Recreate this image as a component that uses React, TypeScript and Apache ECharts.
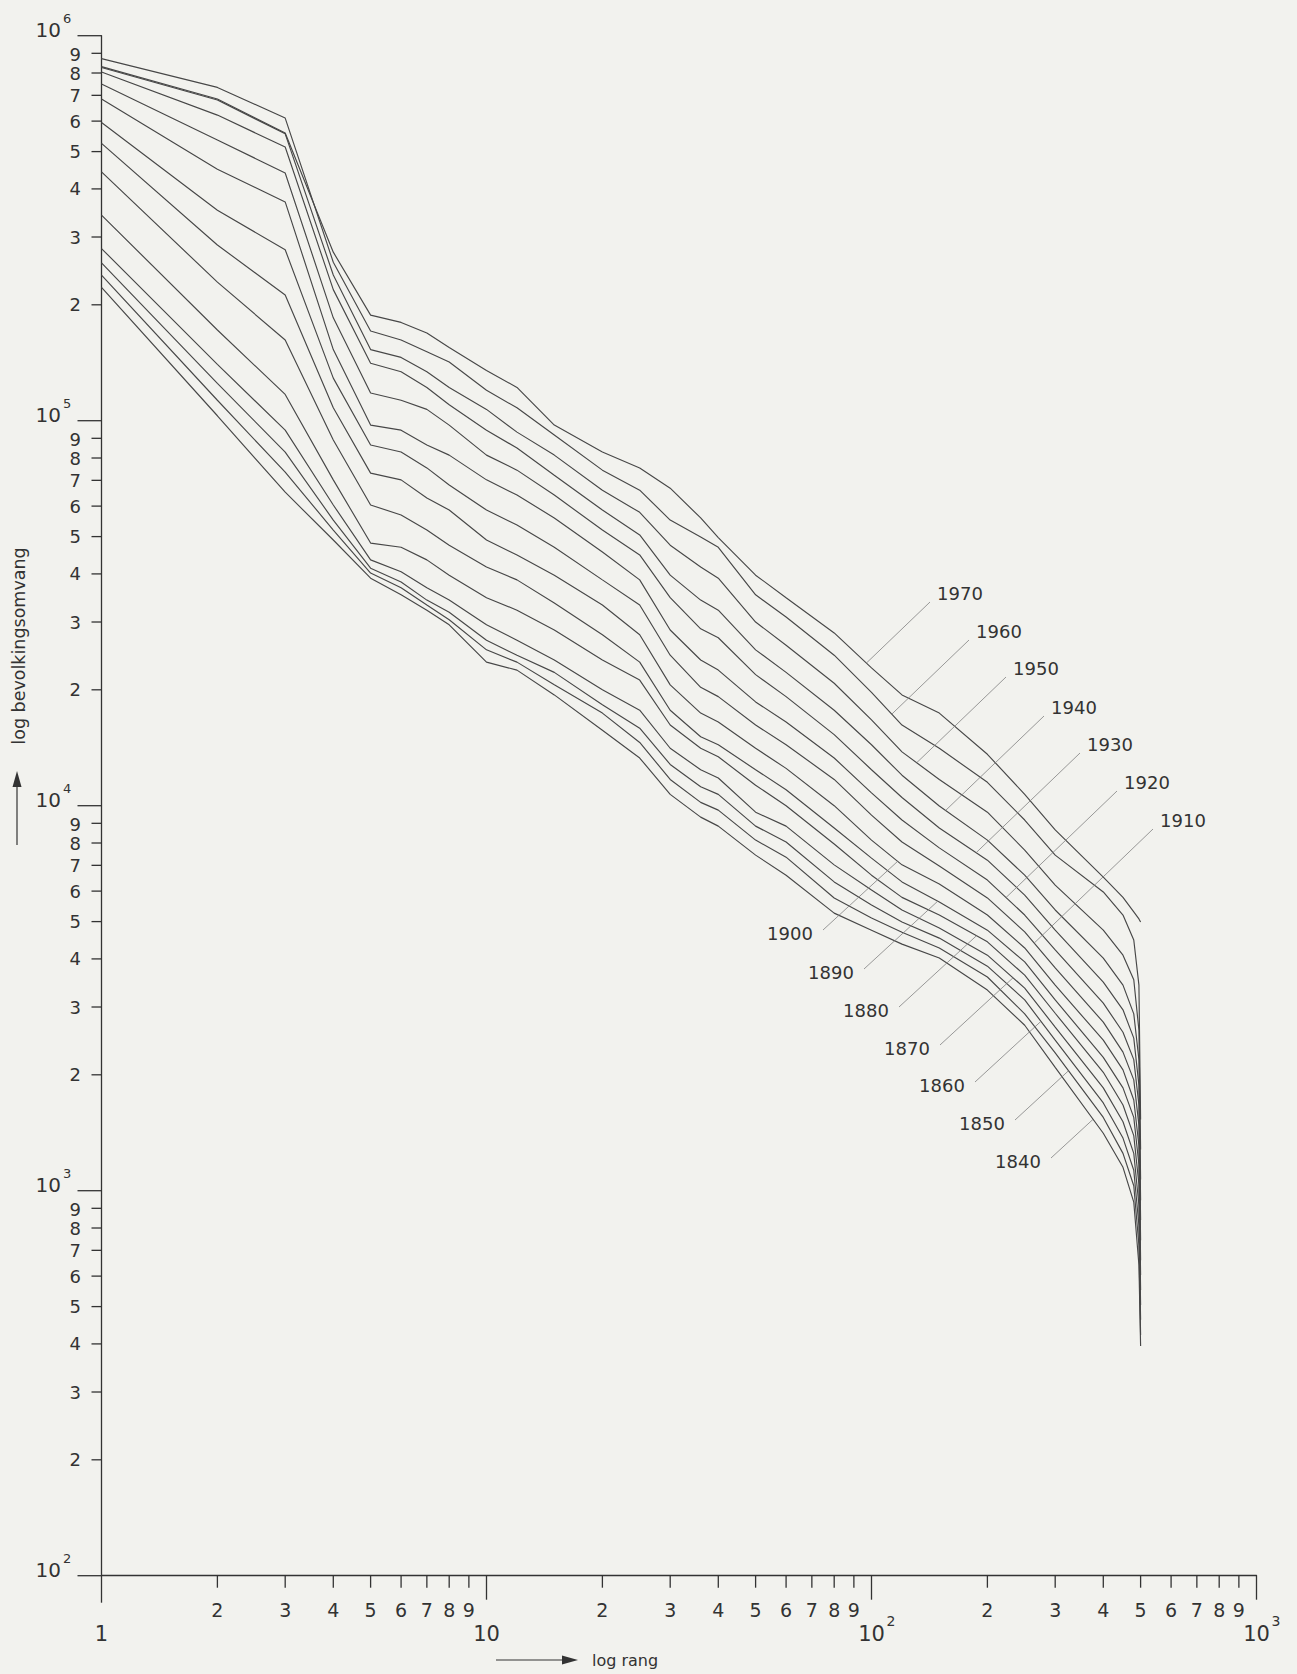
import React, { useEffect, useRef } from "react";
import * as echarts from "echarts";

// ---------------- data ----------------
const RANKS = [1, 2, 3, 4, 5, 6, 7, 8, 10, 12, 15, 20, 25, 30, 36, 40, 50, 60, 80, 100, 120, 150, 200, 250, 300, 400, 450, 480, 495, 500];

const YEARS = [1840, 1850, 1860, 1870, 1880, 1890, 1900, 1910, 1920, 1930, 1940, 1950, 1960, 1970];

const P1840 = [222000, 103000, 65200, 49000, 39000, 35300, 32200, 29500, 23600, 22500, 19400, 15700, 13300, 10700, 9340, 8850, 7440, 6600, 5260, 4750, 4370, 4020, 3320, 2690, 2090, 1410, 1150, 934, 641, 395];
const P1850 = [239000, 113000, 73500, 52000, 40200, 36800, 33200, 30400, 25400, 23600, 20600, 17400, 14600, 11700, 10200, 9740, 8140, 7350, 5760, 5110, 4690, 4270, 3590, 2880, 2280, 1550, 1250, 1030, 722, 422];
const P1860 = [257000, 125000, 82900, 55200, 41400, 38100, 34200, 31800, 26900, 24600, 22200, 18300, 15900, 12800, 11200, 10700, 8850, 8050, 6340, 5520, 4990, 4530, 3830, 3130, 2460, 1690, 1370, 1130, 814, 462];
const P1870 = [280000, 140000, 94500, 60400, 43500, 40500, 36800, 34200, 29500, 26900, 23900, 20000, 17700, 14100, 12400, 11800, 9620, 8850, 7020, 6040, 5360, 4810, 4090, 3360, 2660, 1850, 1510, 1250, 918, 505];
const P1880 = [342000, 172000, 117000, 70200, 48100, 46900, 43500, 39700, 34700, 32200, 28600, 23900, 21200, 16200, 14100, 13400, 11300, 10000, 7950, 6600, 5780, 5200, 4430, 3630, 2890, 2030, 1670, 1390, 1040, 552];
const P1890 = [443000, 229000, 162000, 89100, 60400, 56900, 52000, 47500, 41700, 38600, 33600, 27800, 23600, 17700, 15100, 14400, 12400, 11000, 8750, 7310, 6340, 5620, 4750, 3930, 3130, 2220, 1850, 1550, 1170, 604];
const P1900 = [525000, 286000, 212000, 108000, 73100, 70200, 63000, 58600, 49000, 44800, 39700, 33200, 27800, 20600, 17400, 16500, 14100, 12500, 10000, 8140, 7020, 6260, 5200, 4270, 3420, 2460, 2060, 1720, 1310, 660];
const P1910 = [595000, 352000, 278000, 129000, 86500, 82900, 75400, 68100, 58600, 53600, 46900, 38600, 33200, 24600, 20300, 19200, 16200, 14400, 11700, 9450, 8050, 6970, 5760, 4700, 3790, 2740, 2290, 1940, 1480, 744];
const P1920 = [685000, 450000, 370000, 153000, 97400, 94500, 86500, 81400, 70200, 64100, 55900, 45600, 38600, 28600, 23900, 22500, 18600, 16500, 13300, 10800, 9180, 7770, 6410, 5200, 4220, 3070, 2580, 2190, 1670, 839];
const P1930 = [749000, 536000, 440000, 185000, 118000, 113000, 107000, 97400, 81400, 74400, 64100, 52000, 44800, 34700, 28800, 27300, 21900, 19200, 15300, 12400, 10500, 8750, 7220, 5860, 4750, 3480, 2950, 2490, 1880, 945];
const P1940 = [805000, 622000, 514000, 219000, 141000, 134000, 122000, 110000, 94500, 84900, 72200, 58600, 50500, 39700, 34200, 32200, 25400, 22200, 17700, 14400, 12000, 9980, 8140, 6600, 5360, 4020, 3420, 2880, 2190, 1070];
const P1950 = [827000, 681000, 556000, 239000, 153000, 146000, 134000, 122000, 107000, 93400, 81400, 66000, 57800, 47500, 41700, 39000, 30000, 26100, 20800, 16700, 13800, 11700, 9620, 7670, 6220, 4750, 4090, 3530, 2610, 1280];
const P1960 = [872000, 734000, 611000, 258000, 171000, 162000, 151000, 142000, 120000, 108000, 91800, 74400, 66000, 55200, 49900, 46900, 35300, 30900, 24600, 19700, 16200, 14100, 11500, 9180, 7440, 5970, 5200, 4480, 3420, 1530];
const P1970 = [831000, 685000, 559000, 274000, 188000, 180000, 169000, 155000, 135000, 122000, 97400, 82900, 75400, 66800, 55900, 49700, 39700, 34700, 28100, 22800, 19400, 17400, 13600, 10700, 8650, 6520, 5780, 5300, 5080, 4990];

const SERIES_VALUES = [P1840, P1850, P1860, P1870, P1880, P1890, P1900, P1910, P1920, P1930, P1940, P1950, P1960, P1970];

// tick labels
const MINOR_DIGITS = [2, 3, 4, 5, 6, 7, 8, 9];
const Y_EXPONENTS = [2, 3, 4, 5, 6];
const X_EXPONENTS = [0, 1, 2, 3];

const X_TITLE = "log rang";
const Y_TITLE = "log bevolkingsomvang";

// ---------------- layout (pixels) ----------------
const BG = "#f2f2ee";
const INK = "#333333";
const LINE = "#474747";
const FONT = '"DejaVu Sans", "Liberation Sans", Arial, sans-serif';

// year label centres; "up" labels sit above-right of their curve, "down" labels below-left
const LABEL_POS: { year: number; cx: number; cy: number; side: "up" | "down" }[] = [
  { year: 1970, cx: 960, cy: 593, side: "up" },
  { year: 1960, cx: 999, cy: 631, side: "up" },
  { year: 1950, cx: 1036, cy: 668, side: "up" },
  { year: 1940, cx: 1074, cy: 707, side: "up" },
  { year: 1930, cx: 1110, cy: 744, side: "up" },
  { year: 1920, cx: 1147, cy: 782, side: "up" },
  { year: 1910, cx: 1183, cy: 820, side: "up" },
  { year: 1900, cx: 790, cy: 933, side: "down" },
  { year: 1890, cx: 831, cy: 972, side: "down" },
  { year: 1880, cx: 866, cy: 1010, side: "down" },
  { year: 1870, cx: 907, cy: 1048, side: "down" },
  { year: 1860, cx: 942, cy: 1085, side: "down" },
  { year: 1850, cx: 982, cy: 1123, side: "down" },
  { year: 1840, cx: 1018, cy: 1161, side: "down" },
];

function txt(text: string, x: number, y: number, size: number, align: string, valign: string, extra: any = {}) {
  return {
    type: "text",
    x,
    y,
    silent: true,
    z: 20,
    ...extra,
    style: {
      text,
      font: `${size}px ${FONT}`,
      fill: INK,
      align,
      verticalAlign: valign,
      textAlign: align,
      textVerticalAlign: valign,
    },
  };
}

function seg(x1: number, y1: number, x2: number, y2: number, color = "#333", w = 1.3) {
  return {
    type: "line",
    silent: true,
    z: 20,
    shape: { x1, y1, x2, y2 },
    style: { stroke: color, lineWidth: w },
  };
}

function rayHit(sx: number, sy: number, dx: number, dy: number, pts: number[][]) {
  let best: number[] | null = null;
  let bestT = Infinity;
  for (let i = 0; i < pts.length - 1; i++) {
    const [ax, ay] = pts[i];
    const [bx, by] = pts[i + 1];
    const ex = bx - ax;
    const ey = by - ay;
    const den = dx * ey - dy * ex;
    if (Math.abs(den) < 1e-9) continue;
    const t = ((ax - sx) * ey - (ay - sy) * ex) / den;
    const u = ((ax - sx) * dy - (ay - sy) * dx) / den;
    if (t > 0 && u >= 0 && u <= 1 && t < bestT) {
      bestT = t;
      best = [sx + t * dx, sy + t * dy];
    }
  }
  return best;
}

export default function App() {
  const ref = useRef<HTMLDivElement>(null);

  useEffect(() => {
    document.body.style.margin = "0";
    const el = ref.current!;
    const chart = echarts.init(el, null, { renderer: "svg" });

    const series = SERIES_VALUES.map((vals, i) => ({
      type: "line",
      name: String(YEARS[i]),
      data: RANKS.map((r, j) => [r, vals[j]]),
      symbol: "none",
      silent: true,
      z: 3,
      lineStyle: { color: LINE, width: 1.15 },
    }));

    const axisCommon = {
      type: "log",
      logBase: 10,
      axisLine: { show: true, lineStyle: { color: "#333", width: 1.3 } },
      axisTick: { show: false },
      axisLabel: { show: false },
      splitLine: { show: false },
      minorTick: { show: false },
      minorSplitLine: { show: false },
    };

    chart.setOption({
      animation: false,
      backgroundColor: BG,
      grid: { left: 101.5, top: 35.7, width: 1155, height: 1540, containLabel: false },
      xAxis: { ...axisCommon, min: 1, max: 1000 },
      yAxis: { ...axisCommon, min: 100, max: 1000000 },
      series,
    });

    const gx = (r: number) => chart.convertToPixel({ xAxisIndex: 0 }, r) as unknown as number;
    const gy = (v: number) => chart.convertToPixel({ yAxisIndex: 0 }, v) as unknown as number;
    const x0 = gx(1);
    const yB = gy(100);

    const g: any[] = [];

    // y axis extends below x axis
    g.push(seg(x0, yB, x0, yB + 27));

    // y ticks + labels
    Y_EXPONENTS.forEach((e) => {
      const base = Math.pow(10, e);
      const py = gy(base);
      g.push(seg(x0 - 24, py, x0, py));
      g.push(txt("10", 61, py - 6, 20, "right", "middle"));
      g.push(txt(String(e), 63, py - 17, 13, "left", "middle"));
      if (e < 6) {
        MINOR_DIGITS.forEach((m) => {
          const p = gy(m * base);
          g.push(seg(x0 - 10, p, x0, p));
          g.push(txt(String(m), 81, m === 9 ? p + 1.5 : p, 18, "right", "middle"));
        });
      }
    });

    // x ticks + labels
    X_EXPONENTS.forEach((e) => {
      const base = Math.pow(10, e);
      const px = gx(base);
      if (e === 0) {
        g.push(txt("1", px, 1634, 21, "center", "middle"));
      } else if (e === 1) {
        g.push(seg(px, yB, px, yB + 24));
        g.push(txt("10", px, 1634, 21, "center", "middle"));
      } else {
        g.push(seg(px, yB, px, yB + 24));
        g.push(txt("10", px, 1634, 21, "center", "middle"));
        g.push(txt(String(e), px + 15, 1621, 14, "left", "middle"));
      }
      if (e < 3) {
        MINOR_DIGITS.forEach((m) => {
          const p = gx(m * base);
          g.push(seg(p, yB, p, yB + 12));
          g.push(txt(String(m), p, 1610, 19, "center", "middle"));
        });
      }
    });

    // axis titles with arrows
    g.push(seg(496, 1660, 566, 1660, "#333", 1.2));
    g.push({
      type: "polygon",
      silent: true,
      z: 20,
      shape: { points: [[578, 1660], [562, 1655.5], [562, 1664.5]] },
      style: { fill: "#333" },
    });
    g.push(txt(X_TITLE, 592, 1660, 16, "left", "middle"));

    g.push(seg(17, 845, 17, 784, "#333", 1.2));
    g.push({
      type: "polygon",
      silent: true,
      z: 20,
      shape: { points: [[17, 771], [12.5, 787], [21.5, 787]] },
      style: { fill: "#333" },
    });
    g.push(txt(Y_TITLE, 19, 646, 17.5, "center", "middle", { rotation: Math.PI / 2 }));

    // year labels with leader lines to their own curve
    LABEL_POS.forEach((lp) => {
      const idx = YEARS.indexOf(lp.year);
      const vals = SERIES_VALUES[idx];
      const pts = RANKS.map((r, j) => chart.convertToPixel({ gridIndex: 0 }, [r, vals[j]]) as unknown as number[]);
      let sx: number, sy: number, dx: number, dy: number;
      if (lp.side === "up") {
        sx = lp.cx - 30;
        sy = lp.cy + 9;
        dx = -1;
        dy = 0.96;
      } else {
        sx = lp.cx + 33;
        sy = lp.cy - 3;
        dx = 1;
        dy = -0.92;
      }
      const hit = rayHit(sx, sy, dx, dy, pts);
      if (hit) g.push(seg(sx, sy, hit[0], hit[1], "#808080", 0.8));
      g.push(txt(String(lp.year), lp.cx, lp.cy, 18, "center", "middle"));
    });

    chart.setOption({ graphic: { elements: g } });

    return () => chart.dispose();
  }, []);

  return <div ref={ref} style={{ width: 1297, height: 1674, background: BG }} />;
}
